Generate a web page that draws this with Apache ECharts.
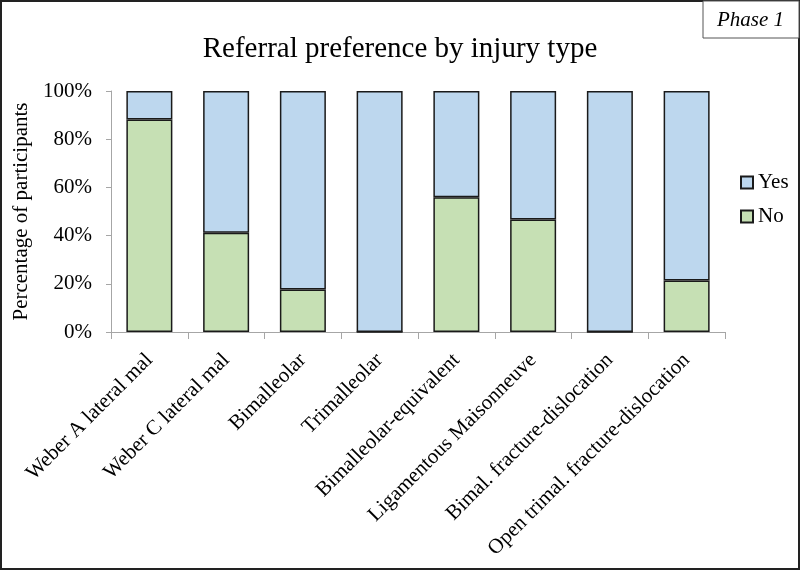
<!DOCTYPE html>
<html>
<head>
<meta charset="utf-8">
<script src="https://cdn.jsdelivr.net/npm/echarts@6/dist/echarts.min.js"></script>
<style>html,body{margin:0;padding:0;background:#fff}#c{width:800px;height:570px}</style>
</head>
<body>
<div id="c"></div>
<script>
var categories = ['Weber A lateral mal','Weber C lateral mal','Bimalleolar','Trimalleolar','Bimalleolar-equivalent','Ligamentous Maisonneuve','Bimal. fracture-dislocation','Open trimal. fracture-dislocation'];
var noValues = [88.2, 41.2, 17.6, 0, 55.9, 46.7, 0, 21.4];
var yesValues = [11.8, 58.8, 82.4, 100, 44.1, 53.3, 100, 78.6];
var yTicks = [0, 20, 40, 60, 80, 100];

var font = 'Liberation Serif, Times New Roman, serif';
var chart = echarts.init(document.getElementById('c'));
chart.setOption({
  animation: false,
  textStyle: {fontFamily: font, color: '#000'},
  title: {text: 'Referral preference by injury type', left: 'center', top: 30,
    textStyle: {fontFamily: font, fontSize: 29, fontWeight: 'normal', color: '#000'}},
  legend: {orient: 'vertical', left: 735, top: 167, itemGap: 13, itemWidth: 12, itemHeight: 12,
    icon: 'rect', data: ['Yes','No'],
    textStyle: {fontFamily: font, fontSize: 21, color: '#000'}},
  grid: {left: 111, right: 75, top: 91, bottom: 238},
  xAxis: {type: 'category', data: categories,
    axisLine: {lineStyle: {color: '#a6a6a6'}},
    axisTick: {show: true, length: 7, lineStyle: {color: '#a6a6a6'}},
    axisLabel: {rotate: 45, interval: 0, fontFamily: font, fontSize: 21, color: '#000', margin: 25}},
  yAxis: {type: 'value', min: 0, max: 100, interval: 20,
    name: 'Percentage of participants', nameLocation: 'middle', nameGap: 71,
    nameTextStyle: {fontFamily: font, fontSize: 21, color: '#000'},
    splitLine: {show: false},
    axisLine: {show: true, lineStyle: {color: '#a6a6a6'}},
    axisTick: {show: true, length: 5, lineStyle: {color: '#a6a6a6'}},
    axisLabel: {fontFamily: font, fontSize: 21, color: '#000', margin: 19,
      formatter: function(v){ return yTicks.indexOf(v) >= 0 ? v + '%' : ''; }}},
  series: [
    {name: 'No', type: 'bar', stack: 's', data: noValues, barWidth: 46,
      itemStyle: {color: '#c6e0b4', borderColor: '#1a1a1a', borderWidth: 1.5}},
    {name: 'Yes', type: 'bar', stack: 's', data: yesValues, barWidth: 46,
      itemStyle: {color: '#bdd7ee', borderColor: '#1a1a1a', borderWidth: 1.5}}
  ],
  graphic: [
    {type: 'rect', shape: {x: 1, y: 1, width: 798, height: 568}, style: {fill: 'none', stroke: '#222', lineWidth: 2}, silent: true},
    {type: 'rect', shape: {x: 703, y: 1, width: 96, height: 37}, style: {fill: '#fff', stroke: '#555', lineWidth: 1}, silent: true},
    {type: 'text', left: 717, top: 10, style: {text: 'Phase 1', font: 'italic 21px ' + font, fill: '#000'}}
  ]
});
</script>
</body>
</html>
